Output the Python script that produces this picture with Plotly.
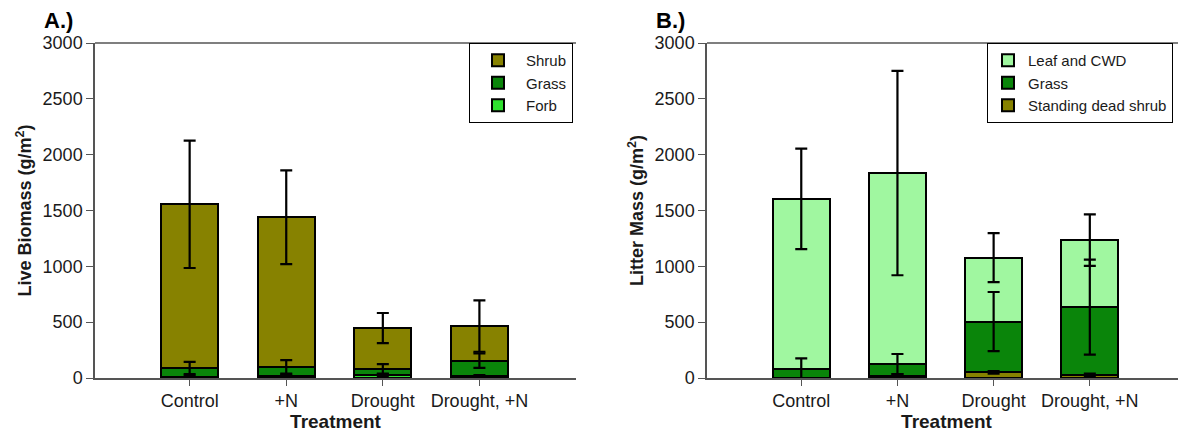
import numpy as np
import plotly.graph_objects as go

# ---------------- data ----------------
categories = ["Control", "+N", "Drought", "Drought, +N"]

# Panel A: live biomass (g/m2), stacked bottom -> top
forb = [10, 20, 25, 15]
forb_err = [12, 10, 15, 10]
grass_a = [80, 80, 55, 140]
grass_a_err = [55, 60, 45, 65]
shrub = [1465, 1340, 367, 310]
shrub_err = [570, 420, 135, 230]

# Panel B: litter mass (g/m2), stacked bottom -> top
dead_shrub = [0, 15, 50, 25]
dead_shrub_err = [0, 20, 12, 15]
grass_b = [85, 110, 455, 610]
grass_b_err = [90, 90, 265, 425]
leaf_cwd = [1520, 1710, 573, 600]
leaf_cwd_err = [450, 915, 220, 230]

y_ticks = [0, 500, 1000, 1500, 2000, 2500, 3000]

# ---------------- style ----------------
FONT = "Arial, Liberation Sans, sans-serif"
C_SHRUB = "#878200"
C_GRASS = "#0a850a"
C_FORB = "#2fe02f"
C_LEAF = "#a0f7a0"
C_DEAD = "#878200"

fig = go.Figure()

def add_stack(series, xa, ya, legend):
    # bars
    for name, vals, errs, col in series:
        fig.add_trace(go.Bar(
            x=categories, y=vals, name=name, xaxis=xa, yaxis=ya,
            marker=dict(color=col, line=dict(color="black", width=2)),
            legend=legend, width=0.59,
        ))
    # error bars drawn above all bars, at cumulative heights
    cum = np.zeros(len(categories))
    for name, vals, errs, col in series:
        cum = cum + np.array(vals, dtype=float)
        fig.add_trace(go.Scatter(
            x=categories, y=cum.tolist(), mode="markers", xaxis=xa, yaxis=ya,
            marker=dict(size=1, color="rgba(0,0,0,0)"),
            error_y=dict(type="data", array=errs, color="black",
                         thickness=2.2, width=6),
            showlegend=False, hoverinfo="skip",
        ))

add_stack([
    ("Forb", forb, forb_err, C_FORB),
    ("Grass", grass_a, grass_a_err, C_GRASS),
    ("Shrub", shrub, shrub_err, C_SHRUB),
], "x", "y", "legend")

add_stack([
    ("Standing dead shrub", dead_shrub, dead_shrub_err, C_DEAD),
    ("Grass", grass_b, grass_b_err, C_GRASS),
    ("Leaf and CWD", leaf_cwd, leaf_cwd_err, C_LEAF),
], "x2", "y2", "legend2")

# page body has an 8px margin -> figure laid out in (screen - 8) coordinates
W, H = 1178, 427
T, B = 35, 57
dA = [87 / W, 568 / W]
dB = [699 / W, 1.0]

def py(px_from_top):
    """paper y for a pixel offset from top of the figure"""
    return (H - B - px_from_top) / (H - T - B)

TXT = "#1a1a1a"
AX = "#555555"

xcommon = dict(
    type="category", range=[-0.98, 4.0], showline=True, linecolor=AX,
    linewidth=1.5, mirror=False, ticks="outside", ticklen=6, tickcolor=AX,
    tickwidth=1.2, tickfont=dict(family=FONT, size=18, color=TXT), showgrid=False,
    zeroline=False, automargin=False,
    title=dict(text="<b>Treatment</b>", font=dict(family=FONT, size=19, color=TXT),
               standoff=2),
)
ycommon = dict(
    range=[0, 3000], tickvals=y_ticks, showline=True, linecolor=AX,
    linewidth=1.5, ticks="outside", ticklen=7, tickcolor=AX, tickwidth=1.2,
    tickfont=dict(family=FONT, size=18, color=TXT), showgrid=False,
    zeroline=False, automargin=False,
)

fig.update_layout(
    width=W, height=H, autosize=False,
    margin=dict(l=0, r=0, t=T, b=B),
    paper_bgcolor="white", plot_bgcolor="white",
    barmode="stack",
    xaxis=dict(xcommon, domain=dA, anchor="y"),
    yaxis=dict(ycommon, anchor="x",
               title=dict(text="<b>Live Biomass (g/m<sup>2</sup>)</b>",
                          font=dict(family=FONT, size=18, color=TXT), standoff=6)),
    xaxis2=dict(xcommon, domain=dB, anchor="y2"),
    yaxis2=dict(ycommon, anchor="x2",
                title=dict(text="<b>Litter Mass (g/m<sup>2</sup>)</b>",
                           font=dict(family=FONT, size=18, color=TXT), standoff=6)),
    legend=dict(x=565 / W, y=1, xanchor="right", yanchor="top",
                traceorder="reversed", bordercolor="black", borderwidth=1,
                bgcolor="white", font=dict(family=FONT, size=15, color=TXT),
                tracegroupgap=0, itemwidth=46),
    legend2=dict(x=979 / W, y=1, xanchor="left", yanchor="top",
                 traceorder="reversed", bordercolor="black", borderwidth=1,
                 bgcolor="white", font=dict(family=FONT, size=15, color=TXT),
                 tracegroupgap=0, itemwidth=30),
    showlegend=True,
)

# top frame lines
for dom in (dA, dB):
    fig.add_shape(type="line", xref="paper", yref="paper",
                  x0=dom[0], x1=dom[1], y0=1, y1=1,
                  line=dict(color=AX, width=1.5))

fig.add_annotation(text="<b>A.)</b>", x=50 / W, y=py(13), xref="paper", yref="paper",
                   showarrow=False, font=dict(family=FONT, size=22, color="black"),
                   xanchor="center", yanchor="middle")
fig.add_annotation(text="<b>B.)</b>", x=662 / W, y=py(13), xref="paper", yref="paper",
                   showarrow=False, font=dict(family=FONT, size=22, color="black"),
                   xanchor="center", yanchor="middle")

fig.write_html("out.html")
